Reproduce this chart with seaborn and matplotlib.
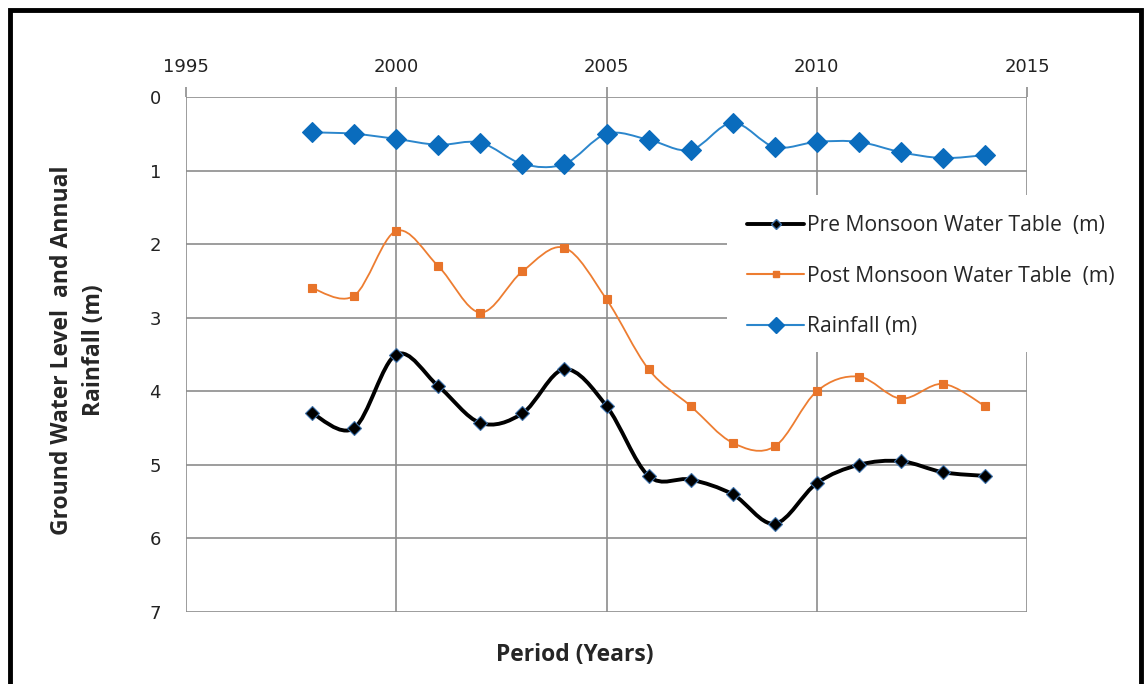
import numpy as np
import matplotlib
matplotlib.use("Agg")
import matplotlib.pyplot as plt
from matplotlib.path import Path
from matplotlib.patches import PathPatch, Rectangle
from matplotlib.lines import Line2D
import seaborn as sns

# data
years = [1998, 1999, 2000, 2001, 2002, 2003, 2004, 2005, 2006,
         2007, 2008, 2009, 2010, 2011, 2012, 2013, 2014]
pre_monsoon = [4.30, 4.50, 3.50, 3.93, 4.43, 4.30, 3.70, 4.20, 5.15,
               5.20, 5.40, 5.80, 5.25, 5.00, 4.95, 5.10, 5.15]
post_monsoon = [2.60, 2.70, 1.82, 2.30, 2.93, 2.37, 2.05, 2.75, 3.70,
                4.20, 4.70, 4.75, 4.00, 3.80, 4.10, 3.90, 4.20]
rainfall = [0.48, 0.50, 0.57, 0.65, 0.62, 0.91, 0.91, 0.50, 0.58,
            0.72, 0.35, 0.68, 0.61, 0.61, 0.75, 0.83, 0.79]

labels = ["Pre Monsoon Water Table  (m)", "Post Monsoon Water Table  (m)", "Rainfall (m)"]
x_ticks = [1995, 2000, 2005, 2010, 2015]
y_ticks = [0, 1, 2, 3, 4, 5, 6, 7]

sns.set_style("white")
plt.rcParams["font.family"] = ["DejaVu Sans"]


def smooth_path(xs, ys):
    # Excel style smoothed line: cubic bezier through every point
    xs = np.asarray(xs, float)
    ys = np.asarray(ys, float)
    pts = np.column_stack([xs, ys])
    n = len(pts)
    verts = [pts[0]]
    codes = [Path.MOVETO]
    for i in range(n - 1):
        p0 = pts[i - 1] if i > 0 else pts[i]
        p1 = pts[i]
        p2 = pts[i + 1]
        p3 = pts[i + 2] if i + 2 < n else pts[i + 1]
        c1 = p1 + (p2 - p0) / 6.0
        c2 = p2 - (p3 - p1) / 6.0
        verts += [c1, c2, p2]
        codes += [Path.CURVE4] * 3
    return Path(verts, codes)


fig = plt.figure(figsize=(11.46, 6.84), dpi=100)
W, H = 1146, 684
ax = fig.add_axes([186 / W, 1 - 612 / H, (1027 - 186) / W, (612 - 97) / H])

series = [
    (pre_monsoon, "black", 2.8, "D", 7, "black", "#3b6fa8"),
    (post_monsoon, "#ED7D31", 1.3, "s", 6, "#E8742A", "#E8742A"),
    (rainfall, "#2b86cc", 1.4, "D", 10, "#0a6cbd", "#0a6cbd"),
]

handles = []
for (vals, lc, lw, mk, ms, mfc, mec), lab in zip(series, labels):
    ax.add_patch(PathPatch(smooth_path(years, vals), fill=False,
                           edgecolor=lc, lw=lw, zorder=3))
    sns.lineplot(x=years, y=vals, ax=ax, marker=mk, markersize=ms,
                 markerfacecolor=mfc, markeredgecolor=mec, markeredgewidth=0.8,
                 linestyle="none", zorder=4, legend=False)
    handles.append(Line2D([], [], color=lc, lw=lw if lw > 2 else 1.5, marker=mk,
                          markersize=ms * 0.8, markerfacecolor=mfc,
                          markeredgecolor=mec))

ax.set_xlim(1995, 2015)
ax.set_ylim(7, 0)
ax.set_xticks(x_ticks)
ax.set_yticks(y_ticks)
ax.xaxis.tick_top()
ax.grid(True, color="#8c8c8c", lw=1.2)
for s in ax.spines.values():
    s.set_visible(False)
ax.tick_params(axis="x", direction="out", length=7, width=1.2, color="#8c8c8c",
               pad=8, labelsize=13, labelcolor="#222222")
ax.tick_params(axis="y", direction="out", length=7, width=1.2, color="#8c8c8c",
               pad=11, labelsize=13, labelcolor="#222222")
ax.set_xlabel("")
ax.set_ylabel("")

fig.text(575 / W, 1 - 655 / H, "Period (Years)", ha="center", va="center",
         fontsize=16.5, fontweight="bold", family=["Open Sans", "DejaVu Sans"])
fig.text(78 / W, 1 - 350 / H, "Ground Water Level  and Annual\nRainfall (m)",
         ha="center", va="center", rotation=90, fontsize=16.5, fontweight="bold",
         linespacing=1.45, family=["Open Sans", "DejaVu Sans"])

# white box behind the legend, cutting the grid like the original
fig.patches.append(Rectangle((727 / W, 1 - 352 / H), (1146 - 727) / W, (352 - 195) / H,
                             transform=fig.transFigure, facecolor="white",
                             edgecolor="none", zorder=5))
leg = fig.legend(handles, labels, loc="upper left",
                 bbox_to_anchor=(728 / W, 1 - 196 / H), frameon=False,
                 handlelength=2.7, handletextpad=0.15, labelspacing=1.4,
                 prop={"family": ["Open Sans", "DejaVu Sans"], "size": 15.2})
leg.set_zorder(6)

# outer black frame
fig.patches.append(Rectangle((10 / W, -0.05), (1141 - 10) / W, 1.05 - 10 / H,
                             transform=fig.transFigure, fill=False,
                             edgecolor="black", lw=3.5, zorder=10))

fig.savefig("out.png", dpi=100)
